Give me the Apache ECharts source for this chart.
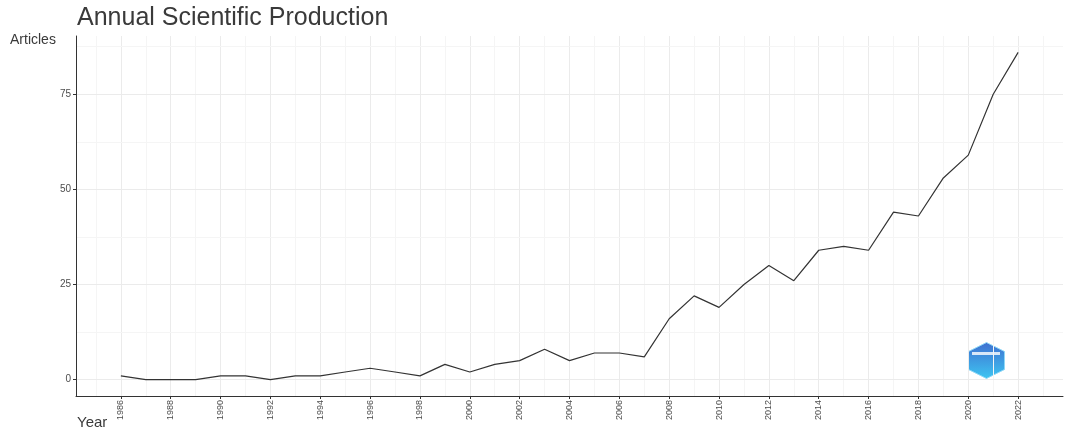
<!DOCTYPE html>
<html lang="en">
<head>
    <meta charset="UTF-8">
    <title>annual_scientific_production</title>
    <style type="text/css">
        html, body { margin: 0; padding: 0; background: #fff; }
        #box { width: 1068px; height: 431px; }
    </style>
</head>
<body>
<div id="box"></div>
<script type="text/javascript" src="https://cdn.jsdelivr.net/npm/echarts@6/dist/echarts.min.js"></script>
<script type="text/javascript">
    // data
    let years = [1986, 1987, 1988, 1989, 1990, 1991, 1992, 1993, 1994, 1995, 1996, 1997,
        1998, 1999, 2000, 2001, 2002, 2003, 2004, 2005, 2006, 2007, 2008, 2009, 2010,
        2011, 2012, 2013, 2014, 2015, 2016, 2017, 2018, 2019, 2020, 2021, 2022];
    let articles = [1, 0, 0, 0, 1, 1, 0, 1, 1, 2, 3, 2,
        1, 4, 2, 4, 5, 8, 5, 7, 7, 6, 16, 22, 19,
        25, 30, 26, 34, 35, 34, 44, 43, 53, 59, 75, 86];
    let xTicks = [1986, 1988, 1990, 1992, 1994, 1996, 1998, 2000, 2002, 2004, 2006, 2008,
        2010, 2012, 2014, 2016, 2018, 2020, 2022];
    let xMinor = [1985, 1987, 1989, 1991, 1993, 1995, 1997, 1999, 2001, 2003, 2005, 2007,
        2009, 2011, 2013, 2015, 2017, 2019, 2021, 2023];
    let yTicks = [0, 25, 50, 75];
    let yMinor = [12.5, 37.5, 62.5, 87.5];

    function lineChart() {
        let myChart = echarts.init(document.getElementById('box'));
        // ggplot style 5% expansion around the data
        let xMin = 1986 - 1.8, xMax = 2022 + 1.8;
        let yMin = -4.3, yMax = 90.3;

        let major = {color: '#ebebeb', width: 1, type: 'solid'};
        let minor = {color: '#f5f5f5', width: 1, type: 'solid'};
        let gridLines = [];
        xTicks.forEach(v => gridLines.push({xAxis: v, lineStyle: major}));
        xMinor.forEach(v => gridLines.push({xAxis: v, lineStyle: minor}));
        yTicks.forEach(v => gridLines.push({yAxis: v, lineStyle: major}));
        yMinor.forEach(v => gridLines.push({yAxis: v, lineStyle: minor}));

        let option = {
            backgroundColor: '#fff',
            animation: false,
            grid: {left: 76, right: 5, top: 36, bottom: 35},
            graphic: [
                {type: 'text', left: 77, top: 6,
                    style: {text: 'Annual Scientific Production', fontFamily: 'Liberation Sans', fontSize: 25, fill: '#3a3a3a'}},
                {type: 'text', left: 10, top: 33,
                    style: {text: 'Articles', fontFamily: 'Liberation Sans', fontSize: 14, fill: '#3a3a3a'}},
                {type: 'text', left: 77, top: 415,
                    style: {text: 'Year', fontFamily: 'Liberation Sans', fontSize: 15, fill: '#3a3a3a'}},
                // small hexagon badge near the bottom right
                {type: 'polygon', left: 968, top: 342,
                    shape: {points: [[18, 0], [36, 9], [36, 27], [18, 36], [0, 27], [0, 9]]},
                    style: {
                        fill: new echarts.graphic.LinearGradient(0, 0, 0, 1, [
                            {offset: 0, color: '#3f6fd0'}, {offset: 1, color: '#3ec6f2'}]),
                        stroke: '#8fd8f7', lineWidth: 1
                    }},
                {type: 'rect', left: 972, top: 352, shape: {width: 28, height: 3},
                    style: {fill: '#ffffff', opacity: 0.8}}
            ],
            xAxis: {
                type: 'value',
                min: xMin,
                max: xMax,
                z: 5,
                axisLine: {show: true, onZero: false, lineStyle: {color: '#333', width: 1}},
                axisTick: {show: true, customValues: xTicks, length: 3, lineStyle: {color: '#333'}},
                axisLabel: {
                    customValues: xTicks, rotate: 90, fontSize: 9, color: '#4d4d4d',
                    fontFamily: 'Liberation Sans', margin: 4,
                    formatter: v => String(v)
                },
                splitLine: {show: false}
            },
            yAxis: {
                type: 'value',
                min: yMin,
                max: yMax,
                z: 5,
                axisLine: {show: true, onZero: false, lineStyle: {color: '#333', width: 1}},
                axisTick: {show: true, customValues: yTicks, length: 3, lineStyle: {color: '#333'}},
                axisLabel: {customValues: yTicks, fontSize: 10, color: '#4d4d4d', fontFamily: 'Liberation Sans', margin: 5},
                splitLine: {show: false}
            },
            series: [
                {
                    name: 'Articles',
                    type: 'line',
                    data: years.map((y, i) => [y, articles[i]]),
                    showSymbol: false,
                    lineStyle: {color: '#333', width: 1.2},
                    z: 3,
                    markLine: {
                        silent: true,
                        symbol: 'none',
                        label: {show: false},
                        lineStyle: major,
                        z: 1,
                        data: gridLines
                    }
                }
            ]
        };
        myChart.setOption(option);
    }

    lineChart();
</script>
</body>
</html>
